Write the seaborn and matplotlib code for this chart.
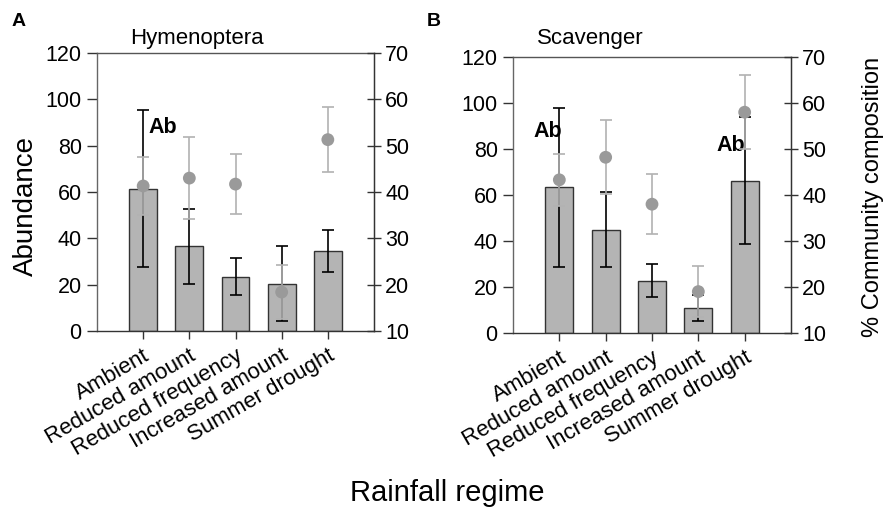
import numpy as np
import pandas as pd
import matplotlib
matplotlib.use("Agg")
import matplotlib.pyplot as plt
import seaborn as sns

categories = ["Ambient", "Reduced amount", "Reduced frequency",
              "Increased amount", "Summer drought"]

hym_abund = [61.5, 36.5, 23.5, 20.5, 34.5]
hym_abund_err = [34.0, 16.0, 8.0, 16.0, 9.0]
hym_pct = [41.3, 43.0, 41.7, 18.4, 51.3]
hym_pct_err = [6.2, 8.8, 6.5, 5.9, 7.0]

scav_abund = [63.3, 44.9, 22.8, 10.9, 66.3]
scav_abund_err = [34.5, 16.4, 7.0, 5.5, 27.6]
scav_pct = [43.3, 48.2, 38.0, 19.0, 58.0]
scav_pct_err = [5.7, 8.0, 6.5, 5.6, 8.0]

left_ticks = [0, 20, 40, 60, 80, 100, 120]
right_ticks = [10, 20, 30, 40, 50, 60, 70]

sns.set_style("ticks")
plt.rcParams['font.family'] = ['Liberation Sans', 'DejaVu Sans']
plt.rcParams['text.color'] = 'black'
plt.rcParams['xtick.color'] = 'black'
plt.rcParams['ytick.color'] = 'black'
plt.rcParams['axes.labelcolor'] = 'black'

fig = plt.figure(figsize=(8.88, 5.14), dpi=100)

BAR_COLOR = "#b4b4b4"
PT_COLOR = "#9a9a9a"
PT_ERR = "#b2b2b2"
SPINE = "#333333"


def panel(rect, abund, aerr, pct, perr, title, title_x, title_y, letters):
    ax = fig.add_axes(rect)
    df = pd.DataFrame({"regime": categories, "abund": abund})
    sns.barplot(data=df, x="regime", y="abund", order=categories,
                color=BAR_COLOR, edgecolor="#333333", linewidth=1.0,
                width=0.6, errorbar=None, ax=ax, saturation=1)
    pos = np.arange(len(categories))
    ax.errorbar(pos, abund, yerr=aerr, fmt="none", ecolor="black",
                elinewidth=1.2, capsize=4.5, capthick=1.2, zorder=3)
    ax.set_xlim(-1.0, 5.0)
    ax.set_ylim(0, 120)
    ax.set_yticks(left_ticks)
    ax.set_ylabel("")
    ax.set_xlabel("")
    ax.set_xticks(pos)
    ax.set_xticklabels(categories, rotation=30, ha="right",
                       rotation_mode="anchor", fontsize=16)
    ax.tick_params(axis="y", direction="out", length=7, labelsize=15.5,
                   width=1, color=SPINE, pad=4, labelcolor="black")
    ax.tick_params(axis="x", direction="out", length=6, width=1,
                   color=SPINE, pad=4, labelcolor="black")
    for s in ax.spines.values():
        s.set_color(SPINE)
        s.set_linewidth(1.0)
        s.set_visible(True)
    ax.spines["left"].set_color("#666666")
    ax.spines["top"].set_color("#555555")

    ax2 = ax.twinx()
    ax2.errorbar(pos, pct, yerr=perr, fmt="none", ecolor=PT_ERR,
                 elinewidth=1.2, capsize=4.5, capthick=1.2, zorder=2)
    sns.scatterplot(x=pos, y=pct, color=PT_COLOR, s=85, edgecolor="none",
                    ax=ax2, zorder=3)
    ax2.set_ylim(10, 70)
    ax2.set_yticks(right_ticks)
    ax2.set_xlim(-1.0, 5.0)
    ax2.tick_params(axis="y", direction="inout", length=10, labelsize=15.5,
                    width=1, color=SPINE, pad=3, labelcolor="black")
    for s in ax2.spines.values():
        s.set_visible(False)
    ax2.spines["right"].set_visible(True)
    ax2.spines["right"].set_color(SPINE)

    ax.text(title_x, title_y, title, transform=ax.transAxes, fontsize=16,
            ha="left", va="baseline", color="black")
    for (lx, ly, ha) in letters:
        ax.text(lx, ly, "Ab", fontsize=15.5, fontweight="bold", ha=ha,
                va="center", zorder=5, color="black")
    return ax, ax2


panel([97 / 888, 1 - 331 / 514, 277 / 888, 278 / 514],
      hym_abund, hym_abund_err, hym_pct, hym_pct_err,
      "Hymenoptera", 0.118, 1.032, [(0.42, 88, "center")])
panel([513 / 888, 1 - 333 / 514, 278 / 888, 276 / 514],
      scav_abund, scav_abund_err, scav_pct, scav_pct_err,
      "Scavenger", 0.085, 1.047, [(0.06, 87.5, "right"), (4.0, 81.4, "right")])

fig.text(19 / 888, 1 - 22 / 514, "A", fontsize=14, fontweight="bold",
         ha="center", va="center")
fig.text(434 / 888, 1 - 22 / 514, "B", fontsize=14, fontweight="bold",
         ha="center", va="center")
fig.text(26 / 888, 1 - 206 / 514, "Abundance", fontsize=20, rotation=90,
         ha="center", va="center")
fig.text(873 / 888, 1 - 197 / 514, "% Community composition", fontsize=17,
         rotation=90, ha="center", va="center")
fig.text(447 / 888, 1 - 493 / 514, "Rainfall regime", fontsize=21,
         ha="center", va="center")

fig.savefig("out.png", dpi=100)
